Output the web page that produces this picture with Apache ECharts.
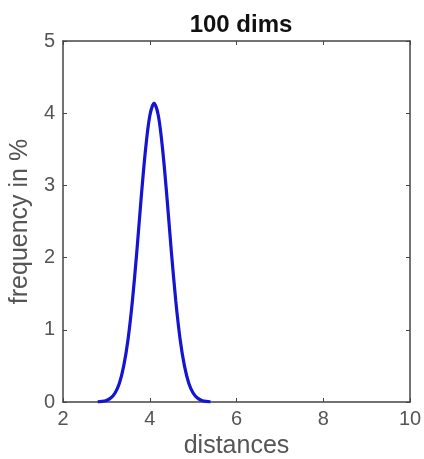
<!DOCTYPE html>
<html>
<head>
<meta charset="utf-8">
<script src="https://cdn.jsdelivr.net/npm/echarts@6/dist/echarts.min.js"></script>
<style>
html, body { margin: 0; padding: 0; background: #fff; }
#main { width: 424px; height: 459px; }
</style>
</head>
<body>
<div id="main"></div>
<script>
var distances = [2.8, 2.9, 3.0, 3.1, 3.2, 3.3, 3.4, 3.5, 3.6, 3.7, 3.8, 3.9, 4.0, 4.1,
    4.2, 4.3, 4.4, 4.5, 4.6, 4.7, 4.8, 4.9, 5.0, 5.1, 5.2, 5.3, 5.4];
var frequency = [0.003, 0.008, 0.022, 0.055, 0.125, 0.26, 0.5, 0.87, 1.4, 2.07, 2.81, 3.48, 3.96, 4.14,
    3.96, 3.48, 2.81, 2.07, 1.4, 0.87, 0.5, 0.26, 0.125, 0.055, 0.022, 0.008, 0.003];

var myChart = echarts.init(document.getElementById('main'));

var points = distances.map(function (d, i) { return [d, frequency[i]]; });
var textColor = '#555';
var lineColor = '#444';
var font = 'Liberation Sans';

var option = {
    animation: false,
    title: {
        text: '100 dims',
        left: 236,
        top: 8,
        textAlign: 'center',
        textStyle: { fontFamily: font, fontSize: 24, fontWeight: 'bold', color: '#111' }
    },
    grid: { left: 63, right: 14, top: 41, bottom: 57, outerBoundsMode: 'none', containLabel: false },
    xAxis: [
        {
            type: 'value', min: 2, max: 10, interval: 2, position: 'bottom',
            name: 'distances', nameLocation: 'middle', nameGap: 30,
            nameTextStyle: { fontFamily: font, fontSize: 25, color: textColor },
            axisLine: { onZero: false, lineStyle: { color: lineColor, width: 1.5 } },
            axisTick: { inside: true, length: 4, lineStyle: { color: lineColor } },
            axisLabel: { fontFamily: font, fontSize: 20, color: textColor, margin: 7 },
            splitLine: { show: false }
        },
        {
            type: 'value', min: 2, max: 10, interval: 2, position: 'top',
            axisLine: { show: true, onZero: false, lineStyle: { color: lineColor, width: 1.5 } },
            axisTick: { inside: true, length: 4, lineStyle: { color: lineColor } },
            axisLabel: { show: false },
            splitLine: { show: false }
        }
    ],
    yAxis: [
        {
            type: 'value', min: 0, max: 5, interval: 1, position: 'left',
            name: 'frequency in %', nameLocation: 'middle', nameGap: 28,
            nameTextStyle: { fontFamily: font, fontSize: 25, color: textColor },
            axisLine: { show: true, onZero: false, lineStyle: { color: lineColor, width: 1.5 } },
            axisTick: { show: true, inside: true, length: 4, lineStyle: { color: lineColor } },
            axisLabel: { fontFamily: font, fontSize: 20, color: textColor, margin: 8 },
            splitLine: { show: false }
        },
        {
            type: 'value', min: 0, max: 5, interval: 1, position: 'right',
            axisLine: { show: true, onZero: false, lineStyle: { color: lineColor, width: 1.5 } },
            axisTick: { show: true, inside: true, length: 4, lineStyle: { color: lineColor } },
            axisLabel: { show: false },
            splitLine: { show: false }
        }
    ],
    series: [
        {
            type: 'line',
            data: points,
            smooth: 0.3,
            showSymbol: false,
            lineStyle: { color: '#1414d2', width: 3.2 }
        }
    ]
};

myChart.setOption(option);
</script>
</body>
</html>
